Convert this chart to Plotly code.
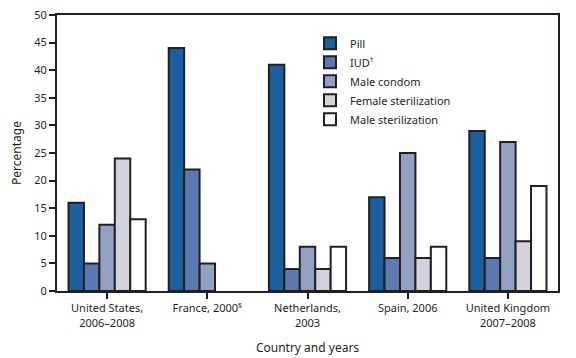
import plotly.graph_objects as go

categories = ["United States,<br>2006–2008", "France, 2000<sup>§</sup>", "Netherlands,<br>2003",
              "Spain, 2006", "United Kingdom<br>2007–2008"]
series_names = ["Pill", "IUD<sup>†</sup>", "Male condom", "Female sterilization", "Male sterilization"]
pill = [16, 44, 41, 17, 29]
iud = [5, 22, 4, 6, 6]
male_condom = [12, 5, 8, 25, 27]
female_ster = [24, None, 4, 6, 9]
male_ster = [13, None, 8, 8, 19]
y_ticks = [0, 5, 10, 15, 20, 25, 30, 35, 40, 45, 50]

colors = ["#1a5f9e", "#5b7bb0", "#93a1c5", "#d1d2dd", "#ffffff"]
ink = "#231f20"
values = [pill, iud, male_condom, female_ster, male_ster]

fig = go.Figure()
for name, vals, col in zip(series_names, values, colors):
    fig.add_trace(go.Bar(x=categories, y=vals, name=name, marker_color=col,
                         marker_line_color=ink, marker_line_width=2))

font = "Noto Sans"
fig.update_layout(
    width=568, height=350,
    margin=dict(l=49, r=18, t=7, b=67, autoexpand=False),
    paper_bgcolor="white", plot_bgcolor="white",
    barmode="group", bargap=0.23, bargroupgap=0,
    font=dict(family=font, size=11, color=ink),
    legend=dict(x=0.505, y=0.95, xanchor="left", yanchor="top",
                bgcolor="rgba(0,0,0,0)", font=dict(size=11, color=ink),
                itemsizing="constant", tracegroupgap=0),
    showlegend=True,
)
fig.update_xaxes(showline=True, linecolor=ink, linewidth=2, mirror=True, automargin=False,
                 ticks="outside", ticklen=6, tickwidth=2, tickcolor=ink,
                 tickfont=dict(size=11, color=ink),
                 title=dict(text="Country and years", font=dict(size=12, color=ink), standoff=15))
fig.update_yaxes(range=[0, 50], tickvals=y_ticks, showline=True, linecolor=ink, linewidth=2,
                 mirror=True, ticks="outside", ticklen=6, tickwidth=2, tickcolor=ink, automargin=False,
                 ticklabeloverflow="allow",
                 showgrid=False, zeroline=False, tickfont=dict(size=11, color=ink),
                 title=dict(text="Percentage", font=dict(size=12, color=ink), standoff=10))

fig.write_html("out.html")
